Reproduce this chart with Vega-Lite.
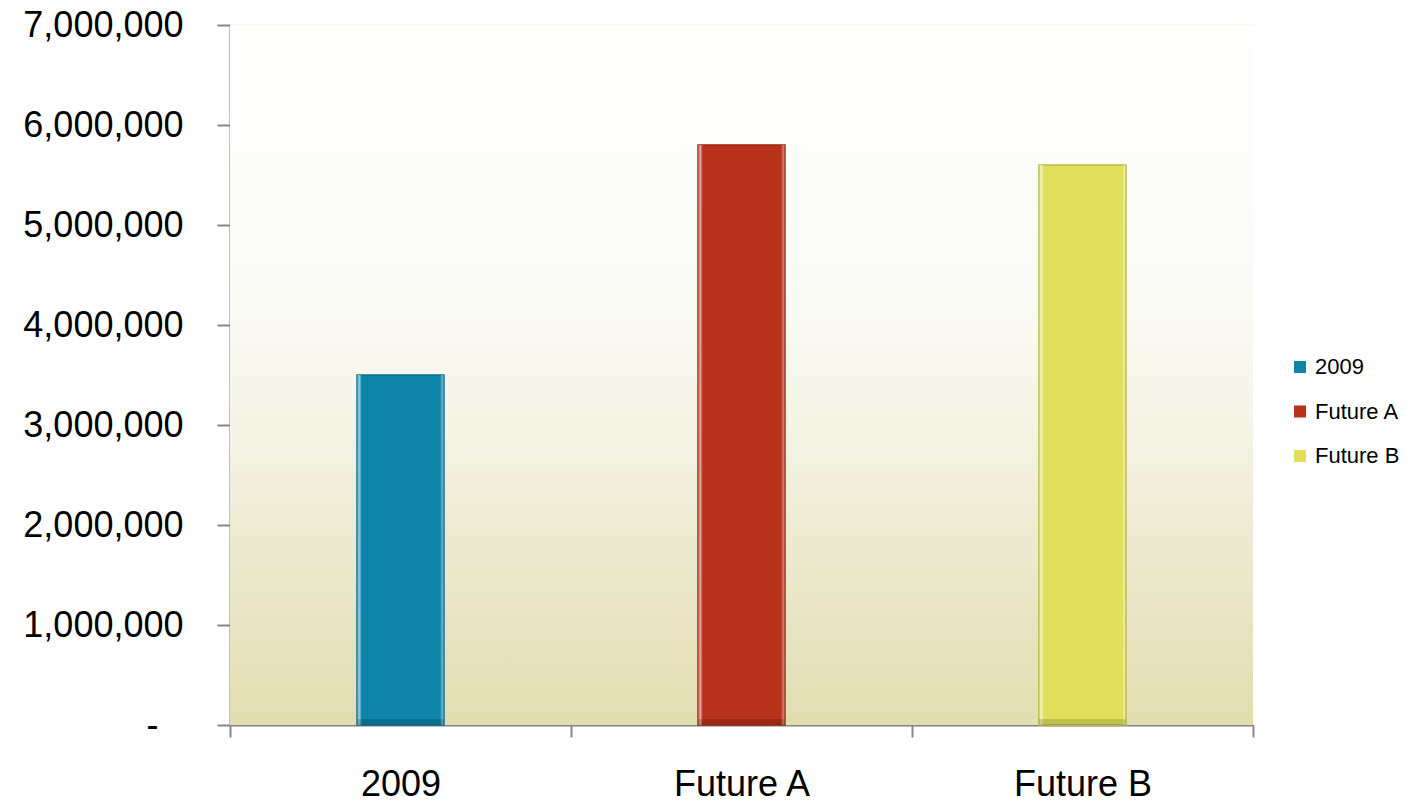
{
  "$schema": "https://vega.github.io/schema/vega-lite/v6.json",
  "width": 1023,
  "height": 700,
  "autosize": {"type": "none"},
  "padding": {"left": 230, "top": 25, "right": 168, "bottom": 78},
  "background": "white",
  "config": {
    "font": "Liberation Sans",
    "view": {"stroke": null}
  },
  "datasets": {
    "scenarios": [
      {"scenario": "2009", "value": 3500000},
      {"scenario": "Future A", "value": 5800000},
      {"scenario": "Future B", "value": 5600000}
    ]
  },
  "layer": [
    {
      "data": {"values": [{"lo": 0, "hi": 7000000}]},
      "mark": {
        "type": "rect",
        "color": {
          "gradient": "linear",
          "x1": 0, "y1": 0, "x2": 0, "y2": 1,
          "stops": [
            {"offset": 0, "color": "#fefefd"},
            {"offset": 0.4, "color": "#fafaf5"},
            {"offset": 0.57, "color": "#f5f4e6"},
            {"offset": 0.72, "color": "#eeebd3"},
            {"offset": 0.86, "color": "#e8e4c2"},
            {"offset": 1, "color": "#e2ddb0"}
          ]
        }
      },
      "encoding": {
        "y": {"field": "hi", "type": "quantitative"},
        "y2": {"field": "lo"}
      }
    },
    {
      "data": {"name": "scenarios"},
      "mark": {"type": "bar", "width": {"band": 0.255}, "strokeWidth": 1.5},
      "encoding": {
        "x": {
          "field": "scenario",
          "type": "nominal",
          "sort": null,
          "scale": {"paddingInner": 0, "paddingOuter": 0},
          "axis": {
            "title": null,
            "labelAngle": 0,
            "tickBand": "extent",
            "tickSize": 12,
            "tickColor": "#868686",
            "tickWidth": 2,
            "domainColor": "#868686",
            "domainWidth": 2,
            "labelFontSize": 36,
            "labelColor": "#000000",
            "labelPadding": 30,
            "grid": false
          }
        },
        "y": {
          "field": "value",
          "type": "quantitative",
          "scale": {"domain": [0, 7000000], "nice": false},
          "axis": {
            "title": null,
            "values": [0, 1000000, 2000000, 3000000, 4000000, 5000000, 6000000, 7000000],
            "labelExpr": "datum.value == 0 ? '-' : format(datum.value, ',')",
            "labelFontSize": 36,
            "labelColor": "#000000",
            "labelPadding": {"condition": {"test": "datum.value == 0", "value": 59}, "value": 34},
            "tickSize": 13,
            "tickColor": "#868686",
            "tickWidth": 2,
            "domainColor": "#868686",
            "domainWidth": 2,
            "gridColor": "#d9d9d9",
            "gridWidth": 1.5
          }
        },
        "color": {
          "field": "scenario",
          "type": "nominal",
          "scale": {
            "domain": ["2009", "Future A", "Future B"],
            "range": ["#0e84a9", "#b8311b", "#e0e05c"]
          },
          "legend": {
            "title": null,
            "orient": "none",
            "legendX": 1059,
            "legendY": 331,
            "padding": 0,
            "symbolType": "square",
            "symbolSize": 144,
            "symbolStrokeWidth": 0,
            "labelFontSize": 22,
            "labelColor": "#000000",
            "labelOffset": 4,
            "rowPadding": 22.5
          }
        },
        "stroke": {
          "field": "scenario",
          "type": "nominal",
          "scale": {
            "domain": ["2009", "Future A", "Future B"],
            "range": ["#0b6d8c", "#9a2712", "#b9b940"]
          },
          "legend": null
        }
      }
    },
    {
      "data": {"name": "scenarios"},
      "mark": {
        "type": "bar",
        "width": {"band": 0.255},
        "color": {
          "gradient": "linear",
          "x1": 0, "y1": 0, "x2": 1, "y2": 0,
          "stops": [
            {"offset": 0, "color": "rgba(255,255,255,0.15)"},
            {"offset": 0.025, "color": "rgba(255,255,255,0.6)"},
            {"offset": 0.055, "color": "rgba(255,255,255,0)"},
            {"offset": 0.955, "color": "rgba(255,255,255,0)"},
            {"offset": 0.98, "color": "rgba(255,255,255,0.4)"},
            {"offset": 1, "color": "rgba(255,255,255,0.1)"}
          ]
        }
      },
      "encoding": {
        "x": {"field": "scenario", "type": "nominal", "sort": null},
        "y": {"field": "value", "type": "quantitative"}
      }
    },
    {
      "data": {"name": "scenarios"},
      "mark": {"type": "bar", "width": {"band": 0.255}, "color": "#000000", "opacity": 0.15},
      "encoding": {
        "x": {"field": "scenario", "type": "nominal", "sort": null},
        "y": {"datum": 60000, "type": "quantitative"},
        "y2": {"datum": 0}
      }
    }
  ]
}
